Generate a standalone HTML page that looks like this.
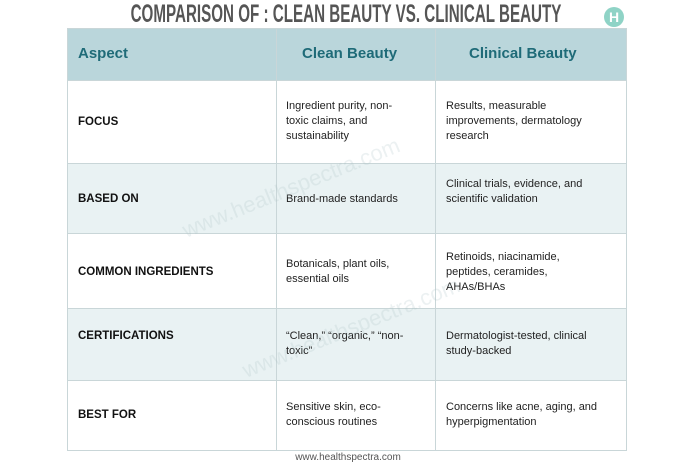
<!DOCTYPE html>
<html><head><meta charset="utf-8"><style>
*{margin:0;padding:0;box-sizing:border-box}
body{width:696px;height:464px;background:#fff;position:relative;overflow:hidden;font-family:"Liberation Sans",sans-serif}
.t{position:absolute;left:346px;top:0px;white-space:nowrap;font-family:"Liberation Sans",sans-serif;font-weight:bold;font-size:25px;color:#555;transform:translateX(-50%) scaleX(0.607)}
.logo{position:absolute;left:604px;top:7px;width:20px;height:20px;border-radius:50%;background:#8fd3c6;color:#fff;font-weight:bold;font-size:14px;text-align:center;line-height:20px}
.tb{position:absolute;left:67px;top:28px;width:560px;height:423px;border:1px solid #c9d6d8}
.r{position:absolute;left:0;width:558px;border-bottom:1px solid #c9d6d8}
.vl{position:absolute;top:0;height:421px;width:1px;background:#c9d6d8}
.c{position:absolute;font-size:11px;line-height:15px;color:#222}
.b{font-weight:bold;font-size:11.5px;color:#111}
.h{font-weight:bold;font-size:15px;color:#1f6b78}
.wm{position:absolute;color:rgba(170,190,195,0.22);font-size:22px;transform:rotate(-22deg);white-space:nowrap}
.f{position:absolute;top:452px;left:0;width:696px;text-align:center;font-size:10px;color:#555}
</style></head><body>
<div class="t">COMPARISON OF : CLEAN BEAUTY VS. CLINICAL BEAUTY</div>
<div class="logo">H</div>
<div class="tb">
<div class="r" style="top:0;height:52px;background:#bad6db"></div>
<div class="r" style="top:52px;height:83px;background:#fff"></div>
<div class="r" style="top:135px;height:70px;background:#e9f2f3"></div>
<div class="r" style="top:205px;height:75px;background:#fff"></div>
<div class="r" style="top:280px;height:72px;background:#e9f2f3"></div>
<div class="vl" style="left:208px"></div>
<div class="vl" style="left:367px"></div>
<div class="c h" style="left:10px;top:17px">Aspect</div>
<div class="c h" style="left:234px;top:17px">Clean Beauty</div>
<div class="c h" style="left:401px;top:17px">Clinical Beauty</div>
<div class="c b" style="left:10px;top:86px">FOCUS</div>
<div class="c" style="left:218px;top:70px">Ingredient purity, non-<br>toxic claims, and<br>sustainability</div>
<div class="c" style="left:378px;top:70px">Results, measurable<br>improvements, dermatology<br>research</div>
<div class="c b" style="left:10px;top:163px">BASED ON</div>
<div class="c" style="left:218px;top:163px">Brand-made standards</div>
<div class="c" style="left:378px;top:148px">Clinical trials, evidence, and<br>scientific validation</div>
<div class="c b" style="left:10px;top:236px">COMMON INGREDIENTS</div>
<div class="c" style="left:218px;top:228px">Botanicals, plant oils,<br>essential oils</div>
<div class="c" style="left:378px;top:221px">Retinoids, niacinamide,<br>peptides, ceramides,<br>AHAs/BHAs</div>
<div class="c b" style="left:10px;top:300px">CERTIFICATIONS</div>
<div class="c" style="left:218px;top:300px">“Clean,” “organic,” “non-<br>toxic”</div>
<div class="c" style="left:378px;top:300px">Dermatologist-tested, clinical<br>study-backed</div>
<div class="c b" style="left:10px;top:379px">BEST FOR</div>
<div class="c" style="left:218px;top:371px">Sensitive skin, eco-<br>conscious routines</div>
<div class="c" style="left:378px;top:371px">Concerns like acne, aging, and<br>hyperpigmentation</div>
</div>
<div class="wm" style="left:175px;top:175px">www.healthspectra.com</div>
<div class="wm" style="left:235px;top:315px">www.healthspectra.com</div>
<div class="f">www.healthspectra.com</div>
</body></html>
